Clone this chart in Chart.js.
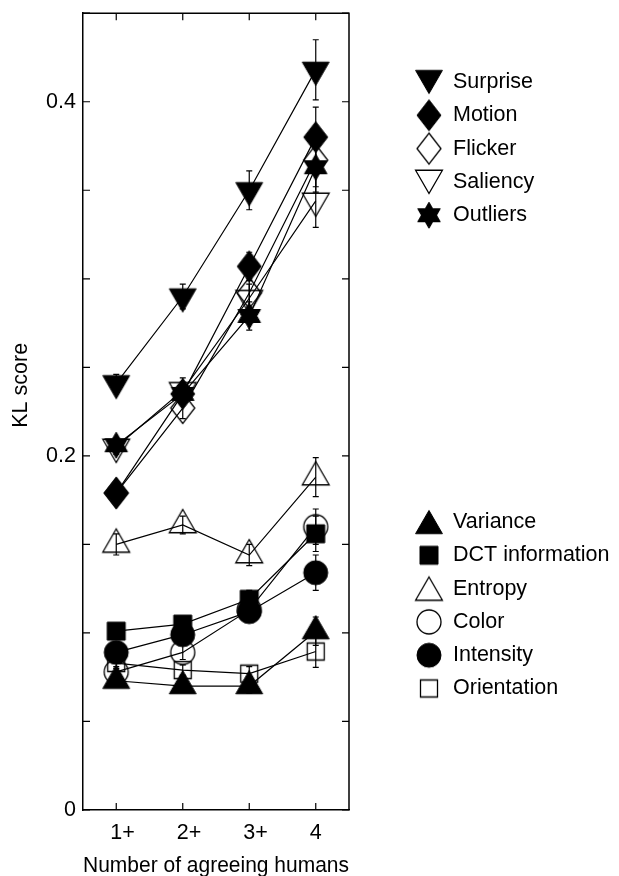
<!DOCTYPE html>
<html>
<head>
<meta charset="utf-8">
<script src="https://cdn.jsdelivr.net/npm/chart.js@4.4.0/dist/chart.umd.min.js"></script>
<style>
    html, body { margin: 0; padding: 0; background: #fff; }
    #kl { display: block; }
</style>
</head>
<body>
<canvas id="kl" width="619" height="876"></canvas>
<script>
// values
var categories = ['1+', '2+', '3+', '4'];
var yLabelled = [0, 0.2, 0.4];

var surprise    = [0.241, 0.290, 0.350, 0.418];
var motion      = [0.179, 0.235, 0.307, 0.380];
var flicker     = [0.179, 0.227, 0.292, 0.367];
var saliency    = [0.205, 0.237, 0.289, 0.344];
var outliers    = [0.206, 0.235, 0.279, 0.363];
var variance    = [0.073, 0.070, 0.070, 0.101];
var dctInfo     = [0.101, 0.105, 0.119, 0.156];
var entropy     = [0.150, 0.161, 0.144, 0.188];
var color       = [0.078, 0.089, 0.113, 0.160];
var intensity   = [0.089, 0.099, 0.112, 0.134];
var orientation = [0.083, 0.079, 0.077, 0.0895];

// half-length of the error bars
var surpriseErr    = [0.005, 0.007, 0.011, 0.017];
var motionErr      = [0.004, 0.006, 0.008, 0.017];
var flickerErr     = [0.004, 0.006, 0.008, 0.015];
var saliencyErr    = [0.004, 0.007, 0.008, 0.015];
var outliersErr    = [0.004, 0.006, 0.008, 0.014];
var varianceErr    = [0.003, 0.003, 0.004, 0.008];
var dctInfoErr     = [0.003, 0.004, 0.005, 0.010];
var entropyErr     = [0.006, 0.005, 0.006, 0.011];
var colorErr       = [0.003, 0.004, 0.005, 0.010];
var intensityErr   = [0.003, 0.004, 0.005, 0.010];
var orientationErr = [0.003, 0.003, 0.004, 0.009];

var KL_Chart =
{
    fontFamily: "'Liberation Sans', Arial, Helvetica, sans-serif",
    fontSize: 21.5,

    init: function()
    {
        var series = [
            ['Surprise', surprise, surpriseErr, 'down', true],
            ['Motion', motion, motionErr, 'diamond', true],
            ['Flicker', flicker, flickerErr, 'diamond', false],
            ['Saliency', saliency, saliencyErr, 'down', false],
            ['Outliers', outliers, outliersErr, 'hexagram', true],
            ['Variance', variance, varianceErr, 'up', true],
            ['DCT information', dctInfo, dctInfoErr, 'square', true],
            ['Entropy', entropy, entropyErr, 'up', false],
            ['Color', color, colorErr, 'circle', false],
            ['Intensity', intensity, intensityErr, 'circle', true],
            ['Orientation', orientation, orientationErr, 'square', false]
        ];

        var datasets = [];
        series.forEach(function(s)
        {
            datasets.push({
                label: s[0],
                data: s[1],
                errors: s[2],
                shape: s[3],
                pointStyle: KL_Chart.makeMarker(s[3], s[4]),
                pointRadius: 12,
                pointHoverRadius: 12,
                borderColor: '#000',
                backgroundColor: '#000',
                borderWidth: 1.2,
                fill: false,
                tension: 0
            });
        });

        var font = {family: KL_Chart.fontFamily, size: KL_Chart.fontSize};

        new Chart(document.getElementById('kl'), {
            type: 'line',
            data: {labels: categories, datasets: datasets},
            options: {
                responsive: false,
                animation: false,
                devicePixelRatio: 1,
                layout: {padding: {top: 13, right: 270, left: 0, bottom: 0}},
                plugins: {
                    legend: {display: false},
                    tooltip: {enabled: false}
                },
                scales: {
                    x: {
                        type: 'category',
                        offset: true,
                        grid: {display: false, drawTicks: false},
                        border: {display: true, color: '#000', width: 1.5},
                        ticks: {font: font, color: '#000', padding: 10, align: 'start', labelOffset: -6, maxRotation: 0},
                        title: {
                            display: true,
                            text: 'Number of agreeing humans',
                            font: {family: KL_Chart.fontFamily, size: 22.5},
                            color: '#000',
                            padding: {top: 0, bottom: -3}
                        },
                        afterFit: function(scale)
                        {
                            scale.height = 66;
                            scale.paddingLeft = 0;
                            scale.paddingRight = 0;
                        }
                    },
                    y: {
                        min: 0,
                        max: 0.45,
                        grid: {display: false, drawTicks: false},
                        border: {display: true, color: '#000', width: 1.5},
                        ticks: {
                            stepSize: 0.05,
                            autoSkip: false,
                            font: font,
                            color: '#000',
                            padding: 7,
                            callback: function(value)
                            {
                                for (var i = 0; i < yLabelled.length; i++)
                                {
                                    if (Math.abs(value - yLabelled[i]) < 1e-6)
                                        return String(yLabelled[i]);
                                }
                                return '';
                            }
                        },
                        afterFit: function(scale)
                        {
                            scale.width = 83;
                            scale.paddingTop = 0;
                            scale.paddingBottom = 0;
                        }
                    }
                }
            },
            plugins: [KL_Chart.errorBars, KL_Chart.frame, KL_Chart.yTitle, KL_Chart.legend]
        });
    },

    makeMarker: function(shape, filled)
    {
        var size = 36, m = size / 2;
        var canvas = document.createElement('canvas');
        canvas.width = size;
        canvas.height = size;
        var ctx = canvas.getContext('2d');
        ctx.strokeStyle = '#000';
        ctx.fillStyle = '#000';
        ctx.lineWidth = filled ? 1 : 1.3;

        var poly = function(points)
        {
            ctx.moveTo(m + points[0][0], m + points[0][1]);
            for (var i = 1; i < points.length; i++)
                ctx.lineTo(m + points[i][0], m + points[i][1]);
            ctx.closePath();
        };
        var tri = function(r, dir)
        {
            var pts = [];
            for (var i = 0; i < 3; i++)
            {
                var a = i * 2 * Math.PI / 3;
                pts.push([r * Math.sin(a), dir * r * Math.cos(a)]);
            }
            poly(pts);
        };
        var finish = function()
        {
            if (filled) ctx.fill();
            ctx.stroke();
        };

        ctx.beginPath();
        if (shape === 'up') tri(15.5, -1);
        else if (shape === 'down') tri(15.5, 1);
        else if (shape === 'diamond') poly([[0, -15.5], [12, 0], [0, 15.5], [-12, 0]]);
        else if (shape === 'square') { var h = filled ? 9 : 8.5; ctx.rect(m - h, m - h, 2 * h, 2 * h); }
        else if (shape === 'circle') ctx.arc(m, m, 12, 0, 2 * Math.PI);
        else if (shape === 'hexagram')
        {
            tri(13, -1);
            finish();
            ctx.beginPath();
            tri(13, 1);
        }
        finish();
        return canvas;
    },

    errorBars:
    {
        id: 'errorBars',
        beforeDatasetsDraw: function(chart)
        {
            var ctx = chart.ctx, y = chart.scales.y;
            ctx.save();
            ctx.strokeStyle = '#000';
            ctx.lineWidth = 1.2;
            chart.data.datasets.forEach(function(ds, i)
            {
                var meta = chart.getDatasetMeta(i);
                ds.data.forEach(function(v, j)
                {
                    var px = meta.data[j].x;
                    var top = y.getPixelForValue(v + ds.errors[j]);
                    var bottom = y.getPixelForValue(v - ds.errors[j]);
                    ctx.beginPath();
                    ctx.moveTo(px, top);
                    ctx.lineTo(px, bottom);
                    ctx.moveTo(px - 3, top);
                    ctx.lineTo(px + 3, top);
                    ctx.moveTo(px - 3, bottom);
                    ctx.lineTo(px + 3, bottom);
                    ctx.stroke();
                });
            });
            ctx.restore();
        }
    },

    frame:
    {
        id: 'frame',
        afterDraw: function(chart)
        {
            var ctx = chart.ctx, area = chart.chartArea;
            var xs = chart.scales.x, ys = chart.scales.y;
            var len = 7;
            ctx.save();
            ctx.strokeStyle = '#000';
            ctx.lineWidth = 1.5;
            ctx.beginPath();
            ctx.moveTo(area.left, area.top);
            ctx.lineTo(area.right, area.top);
            ctx.lineTo(area.right, area.bottom);
            ctx.stroke();

            ctx.lineWidth = 1.2;
            ctx.beginPath();
            ys.ticks.forEach(function(t)
            {
                var py = ys.getPixelForValue(t.value);
                ctx.moveTo(area.left, py);
                ctx.lineTo(area.left + len, py);
                ctx.moveTo(area.right, py);
                ctx.lineTo(area.right - len, py);
            });
            xs.ticks.forEach(function(t, i)
            {
                var px = xs.getPixelForTick(i);
                ctx.moveTo(px, area.bottom);
                ctx.lineTo(px, area.bottom - len);
                ctx.moveTo(px, area.top);
                ctx.lineTo(px, area.top + len);
            });
            ctx.stroke();
            ctx.restore();
        }
    },

    yTitle:
    {
        id: 'yTitle',
        afterDraw: function(chart)
        {
            var ctx = chart.ctx, area = chart.chartArea;
            ctx.save();
            ctx.translate(21, area.top + (area.bottom - area.top) * 0.467);
            ctx.rotate(-Math.PI / 2);
            ctx.font = KL_Chart.fontSize + 'px ' + KL_Chart.fontFamily;
            ctx.fillStyle = '#000';
            ctx.textAlign = 'center';
            ctx.textBaseline = 'middle';
            ctx.fillText('KL score', 0, 0);
            ctx.restore();
        }
    },

    legend:
    {
        id: 'kLegend',
        afterDraw: function(chart)
        {
            var ctx = chart.ctx;
            var groups = [{start: 0, count: 5, y: 82}, {start: 5, count: 6, y: 522}];
            var step = 33.3, markerX = 429, textX = 453;
            ctx.save();
            ctx.font = KL_Chart.fontSize + 'px ' + KL_Chart.fontFamily;
            ctx.fillStyle = '#000';
            ctx.textAlign = 'left';
            ctx.textBaseline = 'middle';
            groups.forEach(function(g)
            {
                for (var k = 0; k < g.count; k++)
                {
                    var ds = chart.data.datasets[g.start + k];
                    var img = ds.pointStyle;
                    var rowY = g.y + k * step;
                    var shift = ds.shape === 'up' ? 3.9 : (ds.shape === 'down' ? -3.9 : 0);
                    ctx.drawImage(img, markerX - img.width / 2, rowY + shift - img.height / 2);
                    ctx.fillText(ds.label, textX, rowY);
                }
            });
            ctx.restore();
        }
    }
};
KL_Chart.init();
</script>
</body>
</html>
